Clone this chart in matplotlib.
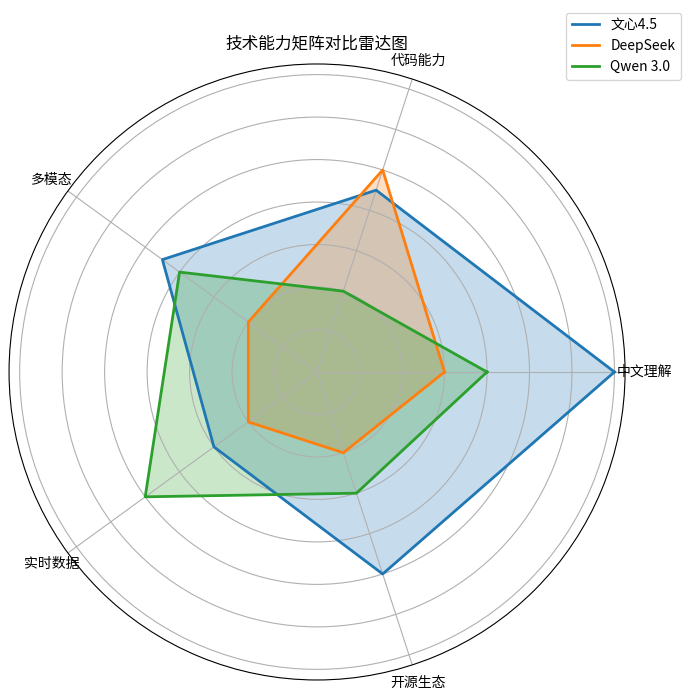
import matplotlib
matplotlib.use("Agg")
import matplotlib.pyplot as plt
import numpy as np

plt.rcParams["font.family"] = ["Noto Sans CJK SC", "DejaVu Sans"]
plt.rcParams["axes.unicode_minus"] = False

# data
categories = ["中文理解", "代码能力", "多模态", "实时数据", "开源生态"]
models = ["文心4.5", "DeepSeek", "Qwen 3.0"]
wenxin = [7, 4.5, 4.5, 3, 5]
deepseek = [3, 5, 2, 2, 2]
qwen = [4, 2, 4, 5, 3]
colors = ["#1f77b4", "#ff7f0e", "#2ca02c"]

angles = np.linspace(0, 2 * np.pi, len(categories), endpoint=False).tolist()
angles += angles[:1]

fig = plt.figure(figsize=(6.9, 7.0), dpi=100)
ax = fig.add_axes([0.013, 0.0286, 0.893, 0.88], polar=True)

for name, vals, c in zip(models, [wenxin, deepseek, qwen], colors):
    v = list(vals) + vals[:1]
    ax.plot(angles, v, color=c, linewidth=2, label=name)
    ax.fill(angles, v, color=c, alpha=0.25)

ax.set_xticks(angles[:-1])
ax.set_xticklabels(categories, fontsize=10)
ax.set_yticklabels([])
ax.set_title("技术能力矩阵对比雷达图", fontsize=12, pad=11)

fig.legend(loc="upper right", bbox_to_anchor=(0.997, 0.992), fontsize=10)

fig.savefig("out.png", dpi=100)
